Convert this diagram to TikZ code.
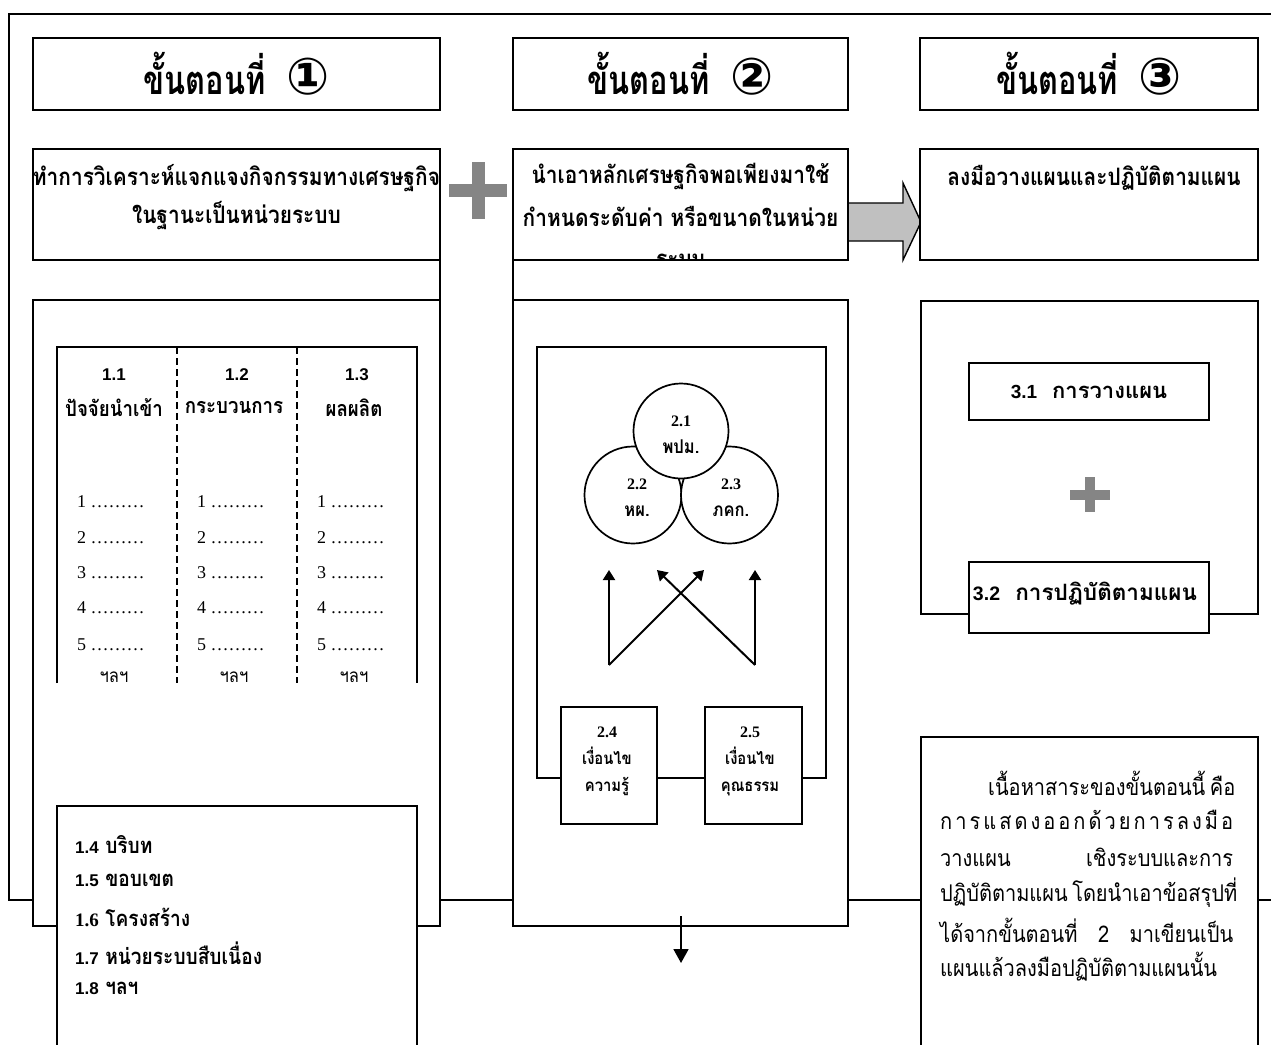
\documentclass[tikz,border=0pt]{standalone}
\usepackage{fontspec}
\newfontfamily\thai[Script=Thai]{Loma}
\newfontfamily\thaic[Script=Thai,FakeStretch=0.87]{Loma}
\newfontfamily\thaih[Script=Thai,FakeStretch=0.77]{Loma}
\newfontfamily\arl{Liberation Sans}
\newfontfamily\tms{Liberation Serif}
\newfontfamily\djv{DejaVu Sans}
\newcommand\circnumfont{\djv\bfseries\fontsize{51}{52}\selectfont}
\newcommand\listnumfont{\arl\bfseries\fontsize{17}{20}\selectfont}
\newcommand\smallnumfont{\tms\bfseries\fontsize{16}{27}\selectfont}
\usetikzlibrary{arrows.meta}
\definecolor{plusgray}{HTML}{858585}
\definecolor{arrowgray}{HTML}{C0C0C0}
\begin{document}
\begin{tikzpicture}[x=1pt,y=-1pt,
  box/.style={draw, fill=white, line width=1.7pt, inner sep=0pt, outer sep=0pt},
  frame/.style={draw, line width=1.5pt, inner sep=0pt, outer sep=0pt},
  txt/.style={inner sep=0pt},
  hdrtxt/.style={txt, font=\thaih\bfseries\fontsize{40}{46}\selectfont},
  bigtxt/.style={txt, font=\thaic\bfseries\fontsize{24}{28}\selectfont},
  colhead/.style={txt, font=\arl\bfseries\fontsize{17}{20}\selectfont},
  colthai/.style={txt, font=\thaic\bfseries\fontsize{21.5}{24}\selectfont},
  item/.style={txt, anchor=west, font=\tms\fontsize{18}{22}\selectfont},
  etc/.style={txt, font=\thaic\fontsize{19}{22}\selectfont},
  listtxt/.style={txt, anchor=west, font=\thaic\bfseries\fontsize{22}{26}\selectfont},
  circtxt/.style={txt, align=center, font=\thaic\bfseries\fontsize{19}{27}\selectfont},
  keytxt/.style={txt, align=center, font=\thaic\bfseries\fontsize{17}{27}\selectfont},
  para/.style={txt, anchor=west, font=\thaic\fontsize{23}{26}\selectfont},
  arr/.style={line width=2pt, -{Triangle[length=10pt,width=12pt]}},
]
\useasboundingbox (0,0) rectangle (1271,1044);
\fill[white] (0,0) rectangle (1271,1044);

% outer frame
\draw[line width=1.7pt] (1271,14) -- (9,14) -- (9,900) -- (1271,900);

% ---------------- column 1 ----------------
\node[box, minimum width=407pt, minimum height=72pt] (h1) at (236.5,74) {};
\node[hdrtxt] (h1t) at (236.5,74) {ขั้นตอนที่\ \ {\circnumfont ①}};

\node[box, minimum width=407pt, minimum height=111pt] (t1) at (236.5,204.5) {};
\node[bigtxt] (t1a) at (236.5,178) {ทำการวิเคราะห์แจกแจงกิจกรรมทางเศรษฐกิจ};
\node[bigtxt] (t1b) at (236.5,216) {ในฐานะเป็นหน่วยระบบ};

\node[box, minimum width=407pt, minimum height=626pt] (b1) at (236.5,613) {};
\draw[line width=1.7pt] (t1.south east) -- (b1.north east);

% table
\coordinate (tl) at (57,347);
\coordinate (tr) at (417,347);
\coordinate (bl) at (57,683);
\coordinate (br) at (417,683);
\draw[line width=1.7pt] (bl) -- (tl) -- (tr) -- (br);
\coordinate (d1t) at (177,347);
\coordinate (d1b) at (177,683);
\coordinate (d2t) at (297,347);
\coordinate (d2b) at (297,683);
\draw[line width=1.6pt, dash pattern=on 7pt off 4pt] (d1t) -- (d1b);
\draw[line width=1.6pt, dash pattern=on 7pt off 4pt] (d2t) -- (d2b);

\node[colhead] (c11) at (114,375) {1.1};
\node[colhead] (c12) at (237,375) {1.2};
\node[colhead] (c13) at (357,375) {1.3};
\node[colthai] (c11t) at (114,408) {ปัจจัยนำเข้า};
\node[colthai] (c12t) at (234,408) {กระบวนการ};
\node[colthai] (c13t) at (354,408) {ผลผลิต};

\foreach \c/\x in {a/77, b/197, c/317}{
  \foreach \n/\y in {1/502, 2/538, 3/573, 4/608, 5/645}{
    \node[item] (it\c\n) at (\x,\y) {\n\ ………};
  }
}
\node[etc] (e1) at (114,677) {ฯลฯ};
\node[etc] (e2) at (234,677) {ฯลฯ};
\node[etc] (e3) at (354,677) {ฯลฯ};

% bottom list box
\node[box, minimum width=360pt, minimum height=260pt] (l1) at (237,936) {};
\node[listtxt] (l14) at (75,845) {{\listnumfont 1.4}\ บริบท};
\node[listtxt] (l15) at (75,880) {{\listnumfont 1.5}\ ขอบเขต};
\node[listtxt] (l16) at (75,917) {{\tms\bfseries\fontsize{19}{20}\selectfont 1.6} โครงสร้าง};
\node[listtxt] (l17) at (75,953) {{\listnumfont 1.7}\ หน่วยระบบสืบเนื่อง};
\node[listtxt] (l18) at (75,988) {{\listnumfont 1.8}\ ฯลฯ};

% plus between col 1 and 2
\fill[plusgray] (449,183.5) rectangle (507,196.5);
\fill[plusgray] (471.5,162) rectangle (484.5,219);

% ---------------- column 2 ----------------
\node[box, minimum width=335pt, minimum height=72pt] (h2) at (680.5,74) {};
\node[hdrtxt] (h2t) at (680.5,74) {ขั้นตอนที่\ \ {\circnumfont ②}};

% block arrow to column 3
\filldraw[fill=arrowgray, draw=black, line width=1.4pt]
  (846,203) -- (903,203) -- (903,183) -- (921,222) -- (903,260) -- (903,241) -- (846,241) -- cycle;

\node[box, minimum width=335pt, minimum height=111pt] (t2) at (680.5,204.5) {};
\begin{scope}
  \clip (514,150) rectangle (847,259);
  \node[bigtxt] (t2a) at (680.5,177) {นำเอาหลักเศรษฐกิจพอเพียงมาใช้};
  \node[bigtxt] (t2b) at (680.5,216) {กำหนดระดับค่า หรือขนาดในหน่วย};
  \node[bigtxt] (t2c) at (680.5,261) {ระบบ};
\end{scope}

\node[box, minimum width=335pt, minimum height=626pt] (b2) at (680.5,613) {};
\draw[line width=1.7pt] (t2.south west) -- (b2.north west);

\node[frame, minimum width=289pt, minimum height=431pt] (in2) at (681.5,562.5) {};

\node[box, circle, minimum size=97pt] (c22) at (633,495) {};
\node[box, circle, minimum size=97pt] (c23) at (729.5,495) {};
\node[box, circle, minimum size=95pt] (c21) at (681,431) {};
\node[circtxt] (c21t) at (681,435) {{\smallnumfont 2.1}\\พปม.};
\node[circtxt] (c22t) at (637,498) {{\smallnumfont 2.2}\\หผ.};
\node[circtxt] (c23t) at (731,498) {{\smallnumfont 2.3}\\ภคก.};

\coordinate (aL0) at (609,665);
\coordinate (aL1) at (609,570);
\coordinate (aX1) at (704,570);
\coordinate (aR0) at (755,665);
\coordinate (aR1) at (755,570);
\coordinate (aX2) at (657,570);
\draw[arr] (aL0) -- (aL1);
\draw[arr] (aL0) -- (aX1);
\draw[arr] (aR0) -- (aR1);
\draw[arr] (aR0) -- (aX2);

\node[box, minimum width=96pt, minimum height=117pt] (k24) at (609,765.5) {};
\node[box, minimum width=97pt, minimum height=117pt] (k25) at (753.5,765.5) {};
\node[keytxt] (k24t) at (607,761) {{\smallnumfont 2.4}\\เงื่อนไข\\ความรู้};
\node[keytxt] (k25t) at (750,761) {{\smallnumfont 2.5}\\เงื่อนไข\\คุณธรรม};

\coordinate (dn0) at (681,916);
\coordinate (dn1) at (681,963);
\draw[line width=1.8pt, -{Triangle[length=14pt,width=15pt]}] (dn0) -- (dn1);

% ---------------- column 3 ----------------
\node[box, minimum width=338pt, minimum height=72pt] (h3) at (1089,74) {};
\node[hdrtxt] (h3t) at (1089,74) {ขั้นตอนที่\ \ {\circnumfont ③}};

\node[box, minimum width=338pt, minimum height=111pt] (t3) at (1089,204.5) {};
\node[bigtxt] (t3a) at (1094,178) {ลงมือวางแผนและปฏิบัติตามแผน};

\node[box, minimum width=337pt, minimum height=313pt] (b3) at (1089.5,457.5) {};
\node[box, minimum width=240pt, minimum height=57pt] (p31) at (1089,391.5) {};
\node[txt, font=\thai\bfseries\fontsize{22}{26}\selectfont] (p31t) at (1089,392) {{\arl\bfseries\fontsize{19}{22}\selectfont 3.1}\ \ การวางแผน};
\fill[plusgray] (1070,490) rectangle (1110,499.5);
\fill[plusgray] (1085,477) rectangle (1095,512);
\node[box, minimum width=240pt, minimum height=71pt] (p32) at (1089,597.5) {};
\node[txt, font=\thai\bfseries\fontsize{22.5}{26}\selectfont] (p32t) at (1085,594) {{\arl\bfseries\fontsize{19.5}{22}\selectfont 3.2}\ \ การปฏิบัติตามแผน};

\node[box, minimum width=337pt, minimum height=330pt] (d3) at (1089.5,902) {};
\node[para] (q1) at (940,783) {\makebox[293pt][s]{\hspace*{48pt}เนื้อหาสาระของขั้นตอนนี้ คือ}};
\node[para] (q2) at (940,820) {\makebox[293pt][s]{ก\hfill า\hfill ร\hfill แ\hfill ส\hfill ด\hfill ง\hfill อ\hfill อ\hfill ก\hfill ด้\hfill ว\hfill ย\hfill ก\hfill า\hfill ร\hfill ล\hfill ง\hfill มื\hfill อ}};
\node[para] (q3) at (940,857) {\makebox[293pt][s]{ว\hfil า\hfil ง\hfil แ\hfil ผ\hfil น\hfill\hfill\hfill\hfill เชิงระบบและการ}};
\node[para] (q4) at (940,893) {\makebox[293pt][s]{ปฏิบัติตามแผน โดยนำเอาข้อสรุปที่}};
\node[para] (q5) at (940,930) {\makebox[293pt][s]{ได้จากขั้นตอนที่ 2 มาเขียนเป็น}};
\node[para] (q6) at (940,967) {แผนแล้วลงมือปฏิบัติตามแผนนั้น};
\end{tikzpicture}
\end{document}
